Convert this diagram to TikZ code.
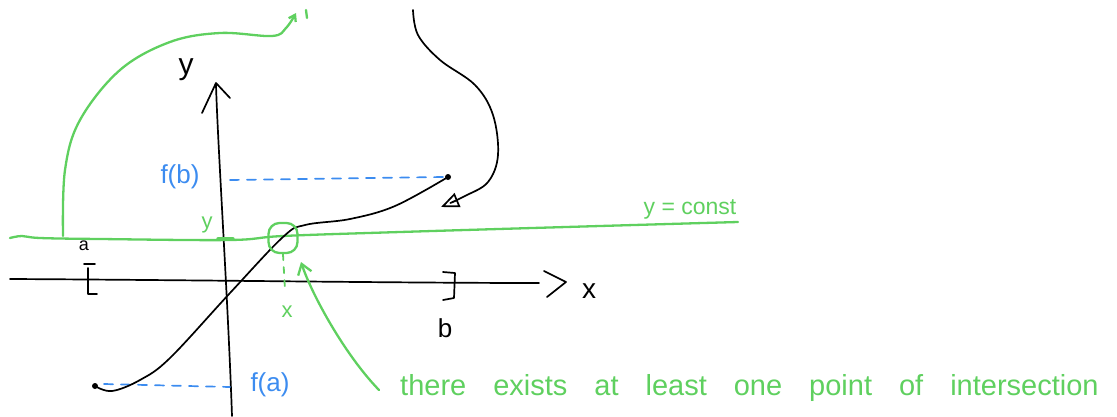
\documentclass[tikz,border=0pt]{standalone}
\usepackage{fontspec}
\setmainfont{Liberation Sans}
\usetikzlibrary{arrows.meta}
\definecolor{hgreen}{RGB}{95,208,95}
\definecolor{hblue}{RGB}{60,140,240}
\begin{document}
\begin{tikzpicture}[x=1pt,y=-1pt, line cap=round, line join=round,
  blk/.style={draw=black, line width=1.7pt},
  grn/.style={draw=hgreen, line width=2.3pt},
  blu/.style={draw=hblue, line width=1.7pt, dash pattern=on 9pt off 8pt},
  lab/.style={inner sep=0pt, font=\fontsize{#1}{#1}\selectfont},
  glab/.style={lab=#1, text=hgreen},
  blab/.style={lab=#1, text=hblue},
  klab/.style={lab=#1, text=black},
]
\useasboundingbox (0,0) rectangle (1117,416);
% x-axis
\draw[blk] (10,279) .. controls (200,280) and (400,283) .. (539,283);
\coordinate (xa) at (566,282);
\draw[blk] (544,271) -- (xa) -- (547,297);
\node[klab=28] (xlab) at (589,291) {x};
% y-axis
\draw[blk] (232,416) .. controls (228,300) and (218,150) .. (216,85);
\coordinate (ya) at (216,83);
\draw[blk] (202,113) -- (ya) -- (230,98);
\node[klab=30] (ylab) at (186,70) {y};
% a and b brackets
\draw[blk] (84,264) -- (95,264);
\draw[blk] (88,268) -- (88,294) -- (97,294);
\node[klab=18] (alab) at (84,246) {a};
\draw[blk] (443,272) -- (455,273) -- (454,298) -- (443,300);
\node[klab=26] (blab) at (445,328) {b};
% blue dashed levels
\draw[blu] (230,180) -- (443,177);
\node[blab=26] (fb) at (180,177) {f(b)};
\draw[blu] (104,384) -- (230,387);
\node[blab=26] (fa) at (270,385) {f(a)};
% green level line
\draw[grn] plot[smooth, tension=0.6] coordinates {(10,238) (22,236) (40,238) (100,239) (230,240) (283,236) (400,232) (600,226) (738,222)};
\node[glab=23] (yc) at (690,209) {y = const};
\draw[hgreen, line width=3.5pt] (218,239) -- (233,239);
\node[glab=22] (ygr) at (207,225) {y};
% function curve
\draw[blk] plot[smooth, tension=0.6] coordinates {(95,386) (112,391) (140,380) (170,358) (230,293) (283,237) (305,225) (350,219) (395,206) (448,177)};
\fill (95,386) circle (3pt);
\fill (448,177) circle (3pt);
% green circle at intersection
\node[draw=hgreen, line width=2.3pt, minimum width=29pt, minimum height=30pt, rounded corners=11pt] (cir) at (283,238) {};
\draw[draw=hgreen, line width=1.8pt, dash pattern=on 6pt off 7pt] (cir.south) -- (285,290);
\node[glab=22] (xgr) at (287,312) {x};
% green curve top-left
\draw[grn, -{Straight Barb[length=6pt, width=8pt]}] plot[smooth, tension=0.6] coordinates {(63,236) (65,170) (80,120) (120,70) (170,42) (220,33) (272,36) (286,28) (296,13)};
\draw[grn] (306,10) -- (307,18);
% black curve from top
\draw[blk, -{Triangle[open, length=18pt, width=15pt]}] plot[smooth, tension=0.6] coordinates {(413,10) (418,35) (440,60) (475,85) (493,115) (498,155) (488,182) (465,196) (441,207)};
% text and arrow
\node[glab=29, anchor=base west] (txt) at (400,395) {\spaceskip=27pt there exists at least one point of intersection};
\coordinate (tstart) at (379,390);
\coordinate (tip) at (301,262);
\draw[grn, -{Straight Barb[length=10pt, width=14pt]}] (tstart) .. controls (345,355) and (312,295) .. (tip);
\end{tikzpicture}
\end{document}
